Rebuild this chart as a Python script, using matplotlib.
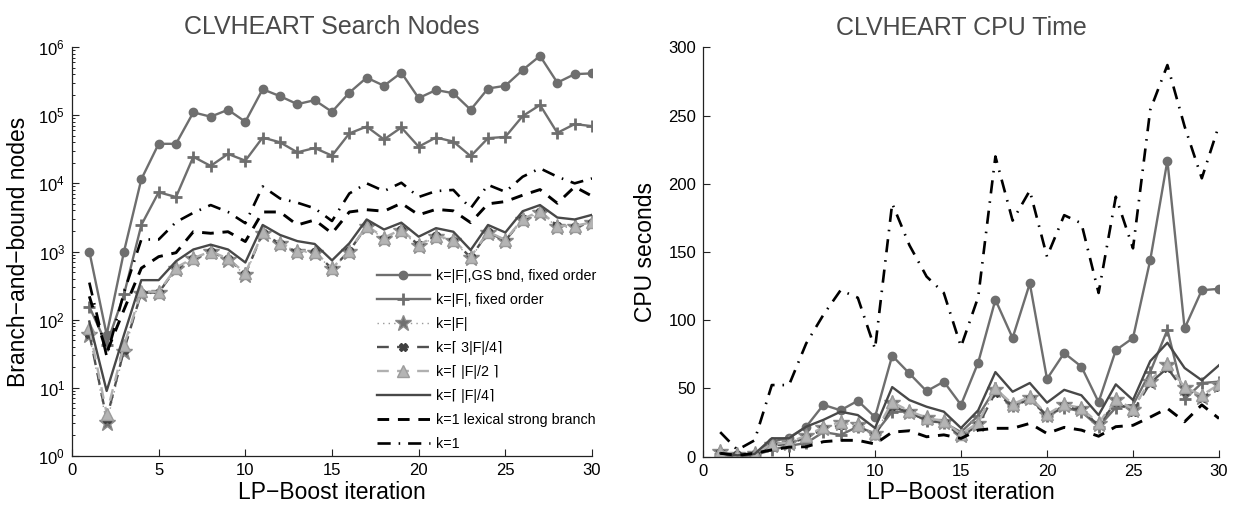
import matplotlib
matplotlib.use("Agg")
import matplotlib.pyplot as plt
import numpy as np

plt.rcParams['font.family'] = ['Liberation Sans', 'DejaVu Sans']
plt.rcParams['mathtext.fontset'] = 'custom'
plt.rcParams['mathtext.rm'] = 'Liberation Sans'

iters = list(range(1, 31))

# ---- Search nodes (left) ----
nodes_gs = [1000, 60, 1000, 11500, 38000, 38000, 110000, 95000, 120000, 80000,
            240000, 190000, 145000, 166000, 112000, 214000, 355000, 270000, 420000, 178000,
            234000, 210000, 120000, 246000, 270000, 460000, 740000, 300000, 400000, 410000]
nodes_fixed = [155, 43, 234, 2450, 7400, 6300, 24500, 18000, 27000, 21500,
               47000, 40000, 28500, 33000, 25500, 54000, 68000, 44000, 66000, 34500,
               47000, 41000, 25000, 46000, 48000, 97000, 141000, 55000, 74000, 69000]
nodes_kF = [60, 3, 34, 240, 245, 550, 770, 1000, 760, 450,
            1800, 1290, 1000, 960, 550, 1000, 2300, 1550, 2000, 1200,
            1650, 1420, 800, 1850, 1420, 2900, 3700, 2300, 2250, 2600]
nodes_k34 = [62, 3.5, 36, 250, 250, 560, 780, 980, 780, 470,
             1850, 1300, 980, 980, 560, 1020, 2350, 1500, 2050, 1250,
             1700, 1450, 820, 1900, 1450, 2950, 3800, 2400, 2300, 2650]
nodes_k12 = [75, 4.2, 42, 260, 255, 580, 800, 1000, 790, 480,
             1900, 1350, 1020, 1000, 570, 1020, 2400, 1600, 2100, 1250,
             1700, 1480, 830, 1950, 1480, 3000, 3900, 2400, 2350, 2700]
nodes_k14 = [94, 9, 60, 380, 380, 720, 1070, 1260, 1070, 690,
             2450, 1750, 1420, 1290, 740, 1320, 2950, 2100, 2650, 1650,
             2200, 1950, 1050, 2450, 1900, 3900, 4800, 3150, 2950, 3450]
nodes_lex = [220, 33, 140, 570, 840, 960, 1950, 1850, 1950, 1400,
             3800, 3800, 2450, 2900, 1850, 3800, 4100, 3900, 5100, 3450,
             4150, 3950, 2650, 5000, 5400, 6700, 8100, 5100, 8900, 6500]
nodes_k1 = [350, 29, 250, 1500, 1500, 2700, 3700, 4800, 3800, 2600,
            9000, 6000, 5200, 4300, 2800, 7100, 10000, 7700, 10200, 6300,
            7700, 8000, 4300, 9500, 7500, 12500, 16600, 12500, 10000, 11800]

# ---- CPU time (right) ----
cpu_gs = [1, 0.5, 2, 11, 14, 22, 38, 34, 41, 29, 74, 61, 48, 55, 38, 69, 115, 87, 127, 57,
          76, 66, 40, 78, 87, 144, 217, 94, 122, 123]
cpu_fixed = [2, 0.5, 1, 5, 8, 10, 18, 16, 22, 17, 33, 33, 26, 25, 18, 30, 50, 37, 43, 30,
             36, 33, 22, 36, 38, 62, 93, 42, 54, 55]
cpu_kF = [3.7, 1.2, 2, 8.5, 10, 15, 21, 24.6, 23, 17, 39, 33, 28, 25.6, 16, 24, 49, 38, 43, 30.5,
          38, 35, 24, 41.5, 34, 55, 67, 50, 44, 52.5]
cpu_k34 = [3, 1, 1.5, 8, 9.5, 14, 20, 23, 22, 16, 37, 32, 27, 25, 15, 23, 47, 37, 42, 30,
           37, 34, 23, 40, 33, 54, 65, 48, 43, 51]
cpu_k12 = [4, 1.2, 2.2, 9, 10.5, 15.5, 21.5, 25.5, 23.5, 17.5, 40, 33.5, 28.5, 26, 16.5, 25, 50, 38.5, 44, 31,
           38.5, 35.5, 24.5, 42, 35, 56, 68, 51, 45, 53]
cpu_k14 = [2.5, 1, 2, 13.5, 13.5, 22, 27, 33, 30.5, 21, 51, 41.5, 36.6, 33, 21, 34, 62, 47.6, 54, 39.6,
           49, 45, 30.5, 53, 41.5, 70, 83.5, 65, 56, 67]
cpu_lex = [2.5, 1, 2.5, 5, 7, 7.3, 11, 12, 12, 9.3, 18, 19, 14.6, 16, 13.4, 19.5, 20.8, 20.8, 24.4, 17,
           21.5, 19.5, 15, 22, 23, 29, 35.4, 25.6, 38, 28]
cpu_k1 = [18, 5, 12, 52.5, 52.5, 83, 104, 122, 116.5, 79, 185.6, 155, 132, 120, 80.6, 117, 220, 173, 195, 146.6,
          177, 171, 120, 190.5, 152.7, 254, 287, 242, 204, 243]

labels = ["k=|F|,GS bnd, fixed order", "k=|F|, fixed order", "k=|F|",
          "k=\u2308 3|F|/4\u2309", "k=\u2308 |F|/2 \u2309", "k=\u2308 |F|/4\u2309",
          "k=1 lexical strong branch", "k=1"]

GRAY = '#6e6e6e'
styles = [
    dict(color=GRAY, lw=1.7, ls='-', marker='o', ms=6, mfc=GRAY, mec=GRAY),
    dict(color=GRAY, lw=1.7, ls='-', marker='+', ms=9, mew=2.0, mec=GRAY),
    dict(color='#9a9a9a', lw=1.0, ls=(0, (1, 3)), marker='*', ms=12, mfc='#707070', mec='#8a8a8a'),
    dict(color='#505050', lw=1.7, ls=(0, (5, 3.5)), marker='X', ms=6, mfc='#404040', mec='#404040'),
    dict(color='#b0b0b0', lw=1.7, ls=(0, (5, 3.5)), marker='^', ms=8, mfc='#b4b4b4', mec='#9c9c9c'),
    dict(color='#484848', lw=1.7, ls='-'),
    dict(color='black', lw=2.1, ls=(0, (4, 3))),
    dict(color='black', lw=1.9, ls=(0, (5, 3, 0.6, 3))),
]

fig = plt.figure(figsize=(12.33, 5.05), dpi=100)
axL = fig.add_axes([72/1233, 1-456/505, (592-72)/1233, (456-47)/505])
axR = fig.add_axes([703/1233, 1-456.7/505, (1219-703)/1233, (456.7-47.3)/505])

left_series = [nodes_gs, nodes_fixed, nodes_kF, nodes_k34, nodes_k12, nodes_k14, nodes_lex, nodes_k1]
right_series = [cpu_gs, cpu_fixed, cpu_kF, cpu_k34, cpu_k12, cpu_k14, cpu_lex, cpu_k1]

handles = []
for s, st, lab in zip(left_series, styles, labels):
    h, = axL.plot(iters, s, label=lab, **st)
    handles.append(h)
for s, st in zip(right_series, styles):
    axR.plot(iters, s, **st)

title_color = '#4a4a4a'
for ax in (axL, axR):
    ax.set_xlim(0, 30)
    ax.set_xticks([0, 5, 10, 15, 20, 25, 30])
    for sp in ('top', 'right'):
        ax.spines[sp].set_visible(False)
    for sp in ('left', 'bottom'):
        ax.spines[sp].set_linewidth(0.9)
        ax.spines[sp].set_color('#222222')
    ax.tick_params(direction='in', length=5, width=0.8, labelsize=12, pad=5, color='#222222')
    ax.tick_params(which='minor', direction='in', length=2.5, width=0.6)
    ax.set_xlabel("LP\u2212Boost iteration", fontsize=16.5, labelpad=2)

axL.set_yscale('log')
axL.set_ylim(1, 1e6)
axL.set_yticks([1, 10, 100, 1e3, 1e4, 1e5, 1e6])
axL.tick_params(axis='x', which='minor', bottom=False)
axL.set_ylabel("Branch\u2212and\u2212bound nodes", fontsize=16.5, labelpad=6)
axL.set_title("CLVHEART Search Nodes", fontsize=18, color=title_color, pad=9)

axR.set_ylim(0, 300)
axR.set_yticks([0, 50, 100, 150, 200, 250, 300])
axR.set_ylabel("CPU seconds", fontsize=16.5, labelpad=8)
axR.set_title("CLVHEART CPU Time", fontsize=18, color=title_color, pad=9)

leg = fig.legend(handles=handles, loc='lower left',
                 bbox_to_anchor=(377/1233, (505-451)/505),
                 frameon=False, fontsize=10.3, labelspacing=0.7,
                 handlelength=3.7, handletextpad=0.45, borderpad=0,
                 borderaxespad=0, numpoints=1)

fig.savefig("out.png", dpi=100)
